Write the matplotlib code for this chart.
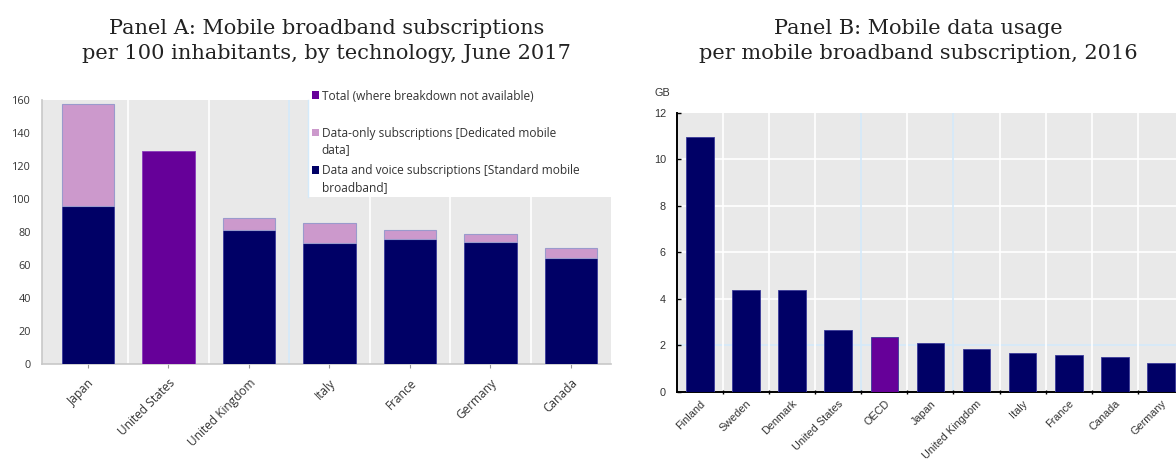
import matplotlib
matplotlib.use("Agg")
import matplotlib.pyplot as plt
from matplotlib.patches import Rectangle
import numpy as np

# Panel A data
countries_a = ["Japan", "United States", "United Kingdom", "Italy", "France", "Germany", "Canada"]
voice_a = [95.5, 0, 81.0, 73.5, 75.5, 73.8, 64.3]
data_only_a = [62.0, 0, 7.5, 12.0, 5.6, 4.7, 5.8]
total_a = [0, 128.9, 0, 0, 0, 0, 0]

# Panel B data
countries_b = ["Finland", "Sweden", "Denmark", "United States", "OECD", "Japan",
               "United Kingdom", "Italy", "France", "Canada", "Germany"]
usage_b = [10.96, 4.37, 4.37, 2.66, 2.33, 2.10, 1.85, 1.68, 1.59, 1.49, 1.21]

NAVY = "#000066"
PURPLE = "#660099"
PINK = "#cc99cc"
BG = "#e9e9e9"
LBLUE = "#d4eafa"

fig = plt.figure(figsize=(11.76, 4.59), dpi=100)

# ---------- Panel A ----------
axA = fig.add_axes([0.0357, 0.207, 0.484, 0.575])
axA.set_facecolor(BG)
x = np.arange(len(countries_a))
w = 0.65
axA.bar(x, voice_a, w, color=NAVY, edgecolor="#3a3a99", linewidth=0.6, zorder=3)
axA.bar(x, data_only_a, w, bottom=voice_a, color=PINK, edgecolor="#9a9acc", linewidth=0.8, zorder=3)
axA.bar(x, total_a, w, color=PURPLE, edgecolor="#8a3abb", linewidth=0.6, zorder=3)
axA.set_xlim(-0.57, 6.5)
axA.set_ylim(0, 160)
axA.set_yticks(range(0, 161, 20))
for b in np.arange(0.5, 6.5, 1):
    axA.axvline(b, color=LBLUE if b == 2.5 else "white", lw=1.2, zorder=1)
axA.set_xticks(x)
axA.set_xticklabels(countries_a, rotation=45, ha="right", rotation_mode="anchor",
                    fontsize=8.6, family="Open Sans", color="#333333")
axA.tick_params(axis="x", length=3, color="#999999", pad=6)
axA.tick_params(axis="y", length=0, pad=8, labelsize=7.8, labelcolor="#333333")
for lab in axA.get_yticklabels():
    lab.set_family("Open Sans")
for s in ["top", "right"]:
    axA.spines[s].set_visible(False)
for s in ["left", "bottom"]:
    axA.spines[s].set_color("#c8c8c8")
    axA.spines[s].set_linewidth(1.2)

fig.text(0.278, 0.91, "Panel A: Mobile broadband subscriptions\nper 100 inhabitants, by technology, June 2017",
         ha="center", va="center", fontsize=15, family="DejaVu Serif", color="#222222",
         linespacing=1.4)

# legend box drawn manually (white box partly above the plot)
fig.patches.append(Rectangle((0.262, 0.571), 0.26, 0.244, transform=fig.transFigure,
                             facecolor="white", edgecolor="none", zorder=5))
fig.add_artist(plt.Line2D([0.262, 0.262], [0.571, 0.782], transform=fig.transFigure,
                          color=LBLUE, lw=1, zorder=6))
items = [(PURPLE, "Total (where breakdown not available)", 0.793),
         (PINK, "Data-only subscriptions [Dedicated mobile\ndata]", 0.712),
         (NAVY, "Data and voice subscriptions [Standard mobile\nbroadband]", 0.630)]
for col, lab, yy in items:
    fig.patches.append(Rectangle((0.2655, yy - 0.008), 0.0055, 0.016, transform=fig.transFigure,
                                 facecolor=col, edgecolor="none", zorder=7))
    fig.text(0.2735, yy + 0.012, lab, ha="left", va="top", fontsize=8.6,
             family="Open Sans", color="#333333", zorder=8, linespacing=1.35)

# ---------- Panel B ----------
axB = fig.add_axes([0.5757, 0.147, 0.431, 0.607])
axB.set_facecolor(BG)
xb = np.arange(len(countries_b))
colors_b = [PURPLE if c == "OECD" else NAVY for c in countries_b]
axB.bar(xb, usage_b, 0.6, color=colors_b, edgecolor="#3a3a99", linewidth=0.6, zorder=3)
axB.set_xlim(-0.5, 10.5)
axB.set_ylim(0, 12)
axB.set_yticks(range(0, 13, 2))
for yv in range(2, 12, 2):
    axB.axhline(yv, color=LBLUE if yv == 2 else "white", lw=1.2, zorder=1)
for b in np.arange(0.5, 10.5, 1):
    axB.axvline(b, color=LBLUE if b in (3.5, 5.5) else "white", lw=1.2, zorder=1)
axB.set_xticks(xb)
axB.set_xticklabels(countries_b, rotation=45, ha="right", rotation_mode="anchor",
                    fontsize=7.8, family="Liberation Sans", color="#333333")
axB.set_xticks(np.arange(0.5, 10.5, 1), minor=True)
axB.tick_params(axis="x", which="major", length=0, pad=5)
axB.tick_params(axis="x", which="minor", length=3, direction="inout", width=1)
axB.tick_params(axis="y", length=3, direction="in", width=1, pad=8,
                labelsize=7.8, labelcolor="#333333")
for lab in axB.get_yticklabels():
    lab.set_family("Liberation Sans")
for s in ["top", "right"]:
    axB.spines[s].set_visible(False)
for s in ["left", "bottom"]:
    axB.spines[s].set_color("black")
    axB.spines[s].set_linewidth(1.4)
axB.text(-0.028, 1.07, "GB", transform=axB.transAxes, ha="center", va="center",
         fontsize=7.8, family="Liberation Sans", color="#333333")

fig.text(0.781, 0.91, "Panel B: Mobile data usage\nper mobile broadband subscription, 2016",
         ha="center", va="center", fontsize=15, family="DejaVu Serif", color="#222222",
         linespacing=1.4)

fig.savefig("out.png", dpi=100)
